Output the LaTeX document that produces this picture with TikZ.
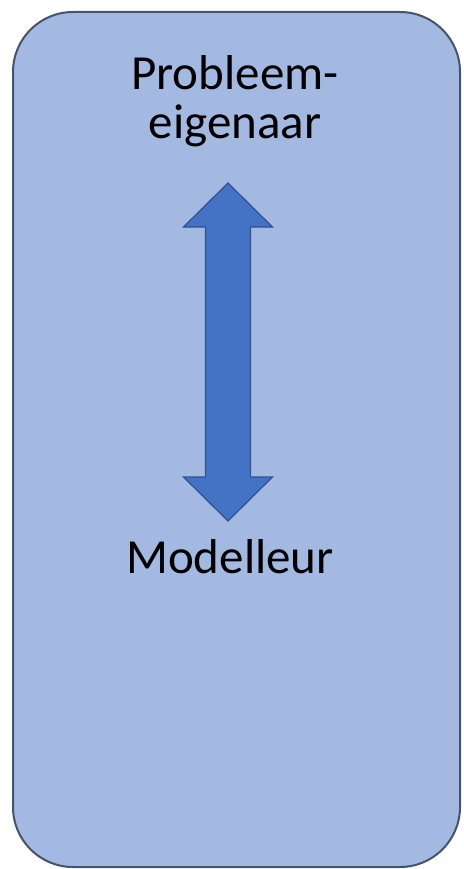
\documentclass[tikz,border=0pt]{standalone}
\usepackage{fontspec}
\setmainfont{Carlito}
\usepackage{xcolor}
\usetikzlibrary{positioning}

\definecolor{boxfill}{HTML}{A3B9E1}
\definecolor{boxline}{HTML}{44546A}
\definecolor{arrfill}{HTML}{4472C4}
\definecolor{arrline}{HTML}{2F528F}

\tikzset{
  role/.style={font=\fontsize{49}{49}\selectfont, text=black, inner sep=0pt, align=center},
}

\begin{document}
\begin{tikzpicture}[x=1pt, y=-1pt]
\useasboundingbox (0,0) rectangle (463,869);
% outer box
\draw[fill=boxfill, draw=boxline, line width=2pt, rounded corners=60pt] (13,12) rectangle (460,867);

\node[role, anchor=base] (owner) at (235,139) {Probleem-\\eigenaar};
\node[role, anchor=base] (modeller) at (230,573) {Modelleur};

% block arrow between the two roles
\coordinate (top) at (228,183);
\coordinate (bot) at (228,521);
\draw[fill=arrfill, draw=arrline, line width=1.2pt, line join=miter]
  (top) -- ++(44.5,44) -- ++(-22,0) -- ++(0,250) -- ++(22,0) -- (bot)
  -- ++(-44.5,-44) -- ++(22,0) -- ++(0,-250) -- ++(-22,0) -- cycle;
\end{tikzpicture}
\end{document}
